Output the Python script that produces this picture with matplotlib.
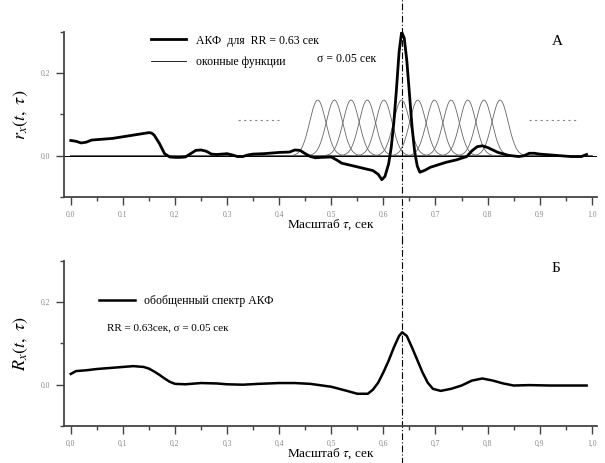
#
# АКФ и обобщенный спектр АКФ (RR = 0.63 сек), две панели
#
import numpy as np
import matplotlib
matplotlib.use('Agg')
import matplotlib.pyplot as plt
from matplotlib.ticker import MultipleLocator, FixedLocator, FixedFormatter

plt.rcParams['font.family'] = ['Liberation Serif', 'DejaVu Serif']
plt.rcParams['mathtext.fontset'] = 'stix'

# --- данные: АКФ (панель А)
acf_x = [0.0, 0.01, 0.02, 0.03, 0.04, 0.06, 0.08, 0.10, 0.12, 0.14, 0.15, 0.155,
         0.16, 0.17, 0.18, 0.19, 0.20, 0.21, 0.22, 0.23, 0.24, 0.25, 0.26, 0.27,
         0.28, 0.29, 0.30, 0.31, 0.32, 0.33, 0.34, 0.35, 0.37, 0.40, 0.42, 0.43,
         0.44, 0.45, 0.46, 0.47, 0.48, 0.50, 0.51, 0.52, 0.54, 0.56, 0.58, 0.59,
         0.597, 0.603, 0.61, 0.615, 0.62, 0.625, 0.63, 0.635, 0.64, 0.645, 0.65,
         0.655, 0.66, 0.665, 0.67, 0.68, 0.69, 0.70, 0.72, 0.74, 0.76, 0.77, 0.78,
         0.79, 0.80, 0.81, 0.82, 0.84, 0.86, 0.87, 0.88, 0.89, 0.90, 0.92, 0.94,
         0.96, 0.98, 0.99]
acf_y = [0.037, 0.035, 0.031, 0.033, 0.038, 0.040, 0.042, 0.046, 0.050, 0.054, 0.056, 0.055,
         0.050, 0.030, 0.005, -0.003, -0.004, -0.004, -0.003, 0.005, 0.013, 0.014, 0.011, 0.004,
         0.003, 0.004, 0.005, 0.002, -0.002, -0.002, 0.002, 0.004, 0.005, 0.008, 0.009, 0.014,
         0.013, 0.005, -0.002, -0.005, -0.004, -0.003, -0.010, -0.018, -0.024, -0.030, -0.036, -0.045,
         -0.058, -0.050, -0.020, 0.020, 0.080, 0.160, 0.250, 0.300, 0.285, 0.230, 0.150,
         0.070, 0.010, -0.025, -0.040, -0.035, -0.028, -0.024, -0.016, -0.010, -0.002, 0.012, 0.022,
         0.024, 0.020, 0.014, 0.008, 0.001, -0.002, 0.000, 0.006, 0.006, 0.004, 0.002, 0.000,
         -0.002, -0.002, 0.003]

# оконные функции (гауссовы окна)
win_centers = [0.474, 0.506, 0.538, 0.569, 0.601, 0.635, 0.666, 0.698, 0.730, 0.762, 0.793, 0.824]
win_height = 0.135
win_width = 0.0155
# "- - - -" продолжение окон
dots_y = 0.087
dots_start = [0.32, 0.88]
dots_end = [0.40, 0.97]

# --- данные: обобщенный спектр АКФ (панель Б)
gs_x = [0.0, 0.01, 0.03, 0.05, 0.08, 0.10, 0.12, 0.14, 0.15, 0.16, 0.17, 0.18, 0.19,
        0.20, 0.22, 0.25, 0.28, 0.30, 0.33, 0.36, 0.40, 0.43, 0.46, 0.50, 0.53, 0.55,
        0.57, 0.58, 0.59, 0.60, 0.61, 0.62, 0.63, 0.636, 0.645, 0.655, 0.665, 0.675,
        0.685, 0.695, 0.71, 0.73, 0.75, 0.77, 0.79, 0.81, 0.83, 0.85, 0.88, 0.92, 0.95, 0.99]
gs_y = [0.026, 0.033, 0.035, 0.038, 0.041, 0.043, 0.045, 0.043, 0.039, 0.032, 0.024, 0.015, 0.007,
        0.002, 0.001, 0.004, 0.003, 0.001, 0.000, 0.002, 0.004, 0.004, 0.002, -0.005, -0.015, -0.022,
        -0.022, -0.012, 0.005, 0.030, 0.058, 0.090, 0.118, 0.127, 0.118, 0.090, 0.060, 0.030,
        0.005, -0.010, -0.015, -0.010, -0.002, 0.010, 0.015, 0.010, 0.003, -0.002, -0.001, -0.002,
        -0.002, -0.002]

rr = 0.636

xticks = [0.0, 0.1, 0.2, 0.3, 0.4, 0.5, 0.6, 0.7, 0.8, 0.9, 1.0]
xlabels_top = ['0.0', '0.1', '0.2', '0.3', '0.4', '0.5', '0.6', '0.7', '0.8', '0.9', '1.0']
xlabels_bot = ['0,0', '0,1', '0,2', '0,3', '0,4', '0,5', '0,6', '0,7', '0,8', '0,9', '1,0']
yticks = [0.0, 0.2]
ylabels = ['0.0', '0.2']

fig = plt.figure(figsize=(6.05, 4.63), dpi=100)
ax1 = fig.add_axes([0.1058, 0.5745, 0.881, 0.3565])
ax2 = fig.add_axes([0.1058, 0.080, 0.881, 0.3565])


def style_axes(ax, xlabels, ylab):
    ax.set_xlim(-0.013, 1.01)
    ax.set_ylim(-0.1, 0.3)
    for s in ['top', 'right']:
        ax.spines[s].set_visible(False)
    for s in ['left', 'bottom']:
        ax.spines[s].set_linewidth(1.3)
        ax.spines[s].set_color('#444444')
    ax.xaxis.set_major_locator(FixedLocator(xticks))
    ax.xaxis.set_major_formatter(FixedFormatter(xlabels))
    ax.xaxis.set_minor_locator(MultipleLocator(0.05))
    ax.yaxis.set_major_locator(FixedLocator(yticks))
    ax.yaxis.set_major_formatter(FixedFormatter(ylabels))
    ax.yaxis.set_minor_locator(MultipleLocator(0.1))
    ax.tick_params(which='major', length=6, width=1.0, color='#444444',
                   labelsize=5.5, labelcolor='#888888', pad=4)
    ax.tick_params(which='minor', length=3, width=1.0, color='#444444')
    ax.set_xlabel('Масштаб $\\tau$, сек', fontsize=9.5, labelpad=-1, x=0.5)
    ax.set_ylabel(ylab, fontsize=13, labelpad=8)


# ---------------- панель А
x = np.linspace(0, 1, 600)
for c in win_centers:
    ax1.plot(x, win_height * np.exp(-(x - c) ** 2 / (2 * win_width ** 2)),
             color='#666666', lw=0.6)
ax1.axhline(0, color='black', lw=0.7)
ax1.hlines([dots_y, dots_y], dots_start, dots_end, colors='#888888', lw=0.8,
           linestyles=(0, (2, 3)))
l1, = ax1.plot(acf_x, acf_y, color='black', lw=2.0)
l2, = ax1.plot([], [], color='black', lw=0.6)
ax1.legend([l1, l2], ['АКФ  для  RR = 0.63 сек', 'оконные функции'],
           loc='upper left', bbox_to_anchor=(0.152, 1.02), frameon=False,
           fontsize=8.5, handlelength=3.0, handletextpad=0.8, labelspacing=0.8,
           borderpad=0)
ax1.text(0.475, 0.82, 'σ = 0.05 сек', transform=ax1.transAxes, fontsize=8.5)
ax1.text(0.915, 0.92, 'А', transform=ax1.transAxes, fontsize=11)
ax1.axvline(rr, ymin=-0.27, ymax=1.2, color='black', lw=0.8,
            linestyle=(0, (6, 2, 1, 2)), clip_on=False)
style_axes(ax1, xlabels_top, '$r_x(t,\\ \\tau)$')

# ---------------- панель Б
l3, = ax2.plot(gs_x, gs_y, color='black', lw=1.8)
ax2.legend([l3], ['обобщенный спектр АКФ'], loc='upper left',
           bbox_to_anchor=(0.055, 0.83), frameon=False, fontsize=8.5,
           handlelength=3.0, handletextpad=0.8, borderpad=0)
ax2.text(0.08, 0.58, 'RR = 0.63сек, σ = 0.05 сек', transform=ax2.transAxes,
         fontsize=8)
ax2.text(0.915, 0.93, 'Б', transform=ax2.transAxes, fontsize=11)
ax2.axvline(rr, ymin=-0.23, ymax=1.13, color='black', lw=0.8,
            linestyle=(0, (6, 2, 1, 2)), clip_on=False)
style_axes(ax2, xlabels_bot, '$R_x(t,\\ \\tau)$')

plt.savefig('out.png', dpi=100)
plt.close('all')
